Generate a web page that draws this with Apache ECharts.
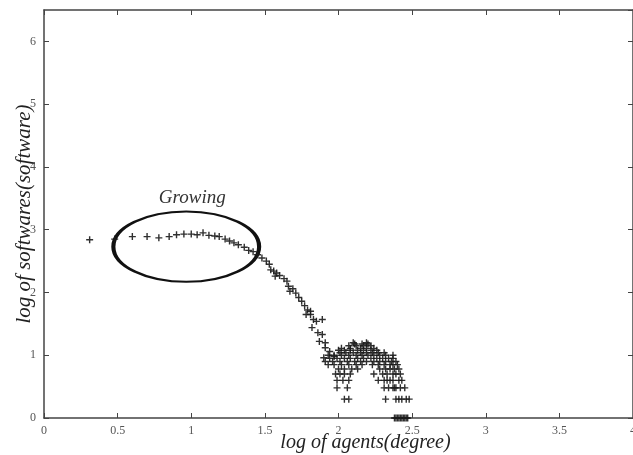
<!DOCTYPE html>
<html>
<head>
<meta charset="utf-8">
<script src="https://cdn.jsdelivr.net/npm/echarts@6/dist/echarts.min.js"></script>
<style>
html, body { margin: 0; padding: 0; background: #fff; }
#main { width: 633px; height: 455px; }
</style>
</head>
<body>
<div id="main"></div>
<script>
// tick labels
var xTicks = [0, 0.5, 1, 1.5, 2, 2.5, 3, 3.5, 4];
var yTicks = [0, 1, 2, 3, 4, 5, 6];

// plateau + falling slope (log degree, log count)
var slopeX = [0.31, 0.48, 0.60, 0.70, 0.78, 0.85, 0.90, 0.95, 1.00, 1.04, 1.08, 1.12, 1.16, 1.19, 1.23, 1.26, 1.29, 1.32, 1.36, 1.39, 1.42, 1.45, 1.48, 1.51, 1.53, 1.54, 1.56, 1.57, 1.58, 1.60, 1.63, 1.65, 1.66, 1.67, 1.69, 1.71, 1.73, 1.75, 1.77, 1.78, 1.79, 1.81, 1.81, 1.83, 1.85, 1.89, 1.82, 1.86, 1.89, 1.87, 1.91, 1.91, 1.94, 1.90, 1.97];
var slopeY = [2.84, 2.85, 2.89, 2.89, 2.87, 2.89, 2.92, 2.93, 2.93, 2.92, 2.95, 2.91, 2.90, 2.89, 2.85, 2.82, 2.79, 2.76, 2.72, 2.67, 2.65, 2.60, 2.55, 2.50, 2.45, 2.36, 2.34, 2.26, 2.31, 2.27, 2.22, 2.18, 2.10, 2.02, 2.06, 1.99, 1.92, 1.86, 1.79, 1.65, 1.72, 1.65, 1.70, 1.57, 1.54, 1.57, 1.44, 1.36, 1.33, 1.22, 1.20, 1.12, 1.06, 0.96, 0.98];

// hump region, one row per log count level
var rowLevels = [0, 0.30, 0.48, 0.60, 0.70, 0.78, 0.85, 0.90, 0.95, 1.00, 1.04, 1.08, 1.11, 1.15, 1.18, 1.20];
var rowX = [
  [2.38, 2.39, 2.40, 2.41, 2.42, 2.43, 2.44, 2.45, 2.46, 2.47],
  [2.04, 2.07, 2.32, 2.39, 2.41, 2.43, 2.46, 2.48],
  [1.99, 2.06, 2.31, 2.34, 2.37, 2.38, 2.39, 2.42, 2.45],
  [1.99, 2.03, 2.07, 2.27, 2.31, 2.33, 2.35, 2.37, 2.41, 2.43],
  [1.98, 2.01, 2.04, 2.08, 2.24, 2.30, 2.33, 2.37, 2.39, 2.42],
  [2.00, 2.04, 2.09, 2.13, 2.28, 2.32, 2.35, 2.38, 2.41],
  [1.93, 1.97, 2.02, 2.07, 2.12, 2.16, 2.23, 2.27, 2.31, 2.35, 2.37, 2.40],
  [1.91, 1.96, 2.01, 2.06, 2.11, 2.15, 2.19, 2.24, 2.28, 2.32, 2.36, 2.39],
  [1.94, 1.99, 2.04, 2.08, 2.13, 2.17, 2.22, 2.26, 2.30, 2.34, 2.37],
  [1.93, 1.97, 2.02, 2.07, 2.12, 2.16, 2.20, 2.24, 2.28, 2.32, 2.37],
  [2.01, 2.05, 2.10, 2.15, 2.19, 2.23, 2.27, 2.31],
  [2.00, 2.04, 2.08, 2.13, 2.17, 2.22, 2.26],
  [2.02, 2.08, 2.15, 2.19, 2.24],
  [2.07, 2.12, 2.17, 2.22],
  [2.11, 2.16, 2.20],
  [2.10, 2.19]
];

// annotation
var ellipseCenter = [0.966, 2.73];
var ellipseRadius = [0.495, 0.56];
var noteText = 'Growing';
var notePos = [1.007, 3.51];

var points = [];
for (var i = 0; i < slopeX.length; i++) {
  points.push([slopeX[i], slopeY[i]]);
}
for (var r = 0; r < rowLevels.length; r++) {
  for (var j = 0; j < rowX[r].length; j++) {
    points.push([rowX[r][j], rowLevels[r]]);
  }
}

var serif = 'Liberation Serif';
var plus = 'path://M4,0h2v4h4v2h-4v4h-2v-4h-4v-2h4z';

var myChart = echarts.init(document.getElementById('main'));

var axisLine = { show: true, onZero: false, lineStyle: { color: '#444', width: 1.5 } };
var tick = { show: true, inside: true, length: 5, lineStyle: { color: '#444' } };
var option = {
  animation: false,
  grid: { left: 44, right: 0, top: 10, bottom: 37, outerBoundsMode: 'none', containLabel: false },
  xAxis: [{
    type: 'value', min: 0, max: 4, interval: 0.5,
    axisLine: axisLine, axisTick: tick,
    splitLine: { show: false },
    axisLabel: {
      color: '#555', fontFamily: serif, fontSize: 12, margin: 7,
      formatter: function (v) { return xTicks.indexOf(v) >= 0 ? String(v) : ''; }
    },
    name: 'log of agents(degree)', nameLocation: 'middle', nameGap: 15, nameMoveOverlap: false,
    nameTextStyle: { fontFamily: serif, fontStyle: 'italic', fontSize: 20, color: '#222', padding: [0, 0, 0, 54], verticalAlign: 'top' }
  }, {
    type: 'value', min: 0, max: 4, interval: 0.5, position: 'top',
    axisLine: axisLine, axisTick: tick,
    axisLabel: { show: false }, splitLine: { show: false }
  }],
  yAxis: [{
    type: 'value', min: 0, max: 6.5, interval: 1,
    axisLine: axisLine, axisTick: tick,
    splitLine: { show: false },
    axisLabel: {
      color: '#555', fontFamily: serif, fontSize: 12, margin: 8, showMaxLabel: false,
      formatter: function (v) { return yTicks.indexOf(v) >= 0 ? String(v) : ''; }
    },
    name: 'log of softwares(software)', nameLocation: 'middle', nameGap: 9, nameMoveOverlap: false,
    nameTextStyle: { fontFamily: serif, fontStyle: 'italic', fontSize: 21, color: '#222' }
  }, {
    type: 'value', min: 0, max: 6.5, interval: 1, position: 'right',
    axisLine: axisLine, axisTick: tick,
    axisLabel: { show: false }, splitLine: { show: false }
  }],
  series: [{
    type: 'scatter',
    data: points,
    symbol: plus,
    symbolSize: 7,
    itemStyle: { color: '#1a1a1a', opacity: 0.9 }
  }]
};
myChart.setOption(option);

// ellipse and label placed from data coordinates
var c = myChart.convertToPixel({ gridIndex: 0 }, ellipseCenter);
var e = myChart.convertToPixel({ gridIndex: 0 }, [ellipseCenter[0] + ellipseRadius[0], ellipseCenter[1] + ellipseRadius[1]]);
var rx = Math.abs(e[0] - c[0]);
var ry = Math.abs(c[1] - e[1]);
var t = myChart.convertToPixel({ gridIndex: 0 }, notePos);
myChart.setOption({
  graphic: [{
    type: 'circle',
    x: c[0], y: c[1],
    scaleX: rx / ry, scaleY: 1,
    shape: { cx: 0, cy: 0, r: ry },
    style: { fill: 'none', stroke: '#111', lineWidth: 2, strokeNoScale: true },
    silent: true
  }, {
    type: 'text',
    x: t[0], y: t[1],
    style: {
      text: noteText, font: 'italic 19px "Liberation Serif"', fill: '#333',
      align: 'center', verticalAlign: 'middle'
    },
    silent: true
  }]
});
</script>
</body>
</html>
